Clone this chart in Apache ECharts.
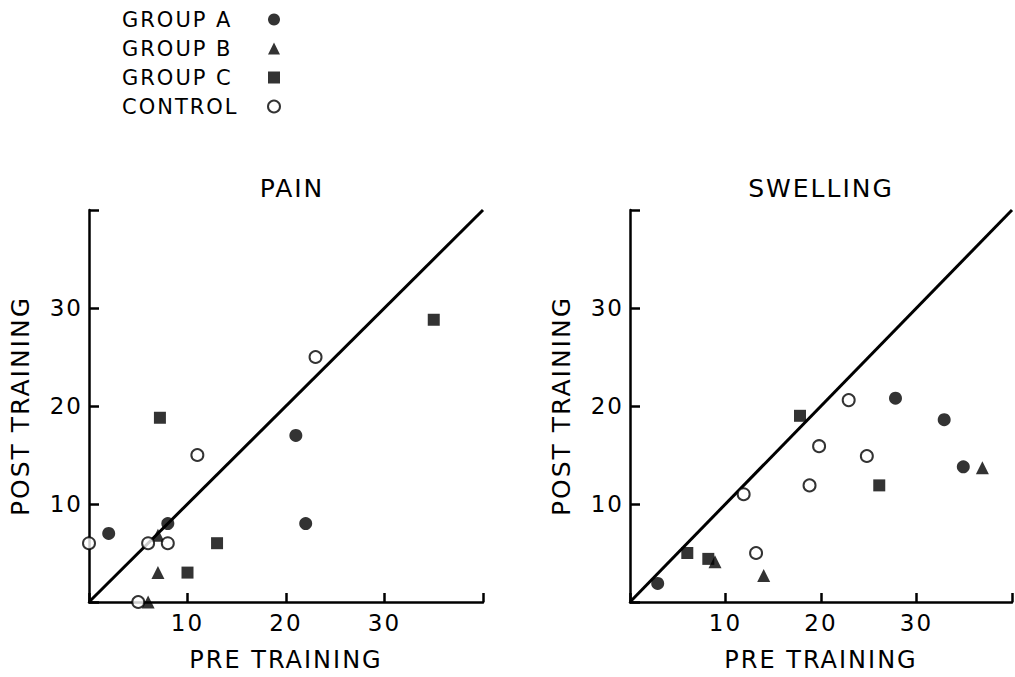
<!DOCTYPE html>
<html>
<head>
<meta charset="utf-8">
<script src="https://cdn.jsdelivr.net/npm/echarts@6/dist/echarts.min.js"></script>
<style>
  html, body { margin: 0; padding: 0; background: #fff; }
  #chart { width: 1015px; height: 677px; }
  /* the original hand lettering is wide-spaced */
  #chart text { letter-spacing: 2px; }
</style>
</head>
<body>
<div id="chart"></div>
<script>
// panel titles and legend names
const panelTitles = ["PAIN", "SWELLING"];
const groupNames = ["GROUP A", "GROUP B", "GROUP C", "CONTROL"];
const axisTicks = [10, 20, 30];

// PAIN panel: [pre training, post training]
const painGroupA = [[2, 7], [8, 8], [21, 17], [22, 8]];
const painGroupB = [[7, 6.8], [7, 3], [6, 0]];
const painGroupC = [[7.2, 18.8], [10, 3], [13, 6], [35, 28.8]];
const painControl = [[0, 6], [6, 6], [8, 6], [5, 0], [11, 15], [23, 25]];

// SWELLING panel
const swellGroupA = [[2.9, 1.9], [27.8, 20.8], [32.9, 18.6], [34.9, 13.8]];
const swellGroupB = [[8.9, 4.1], [14, 2.7], [36.9, 13.7]];
const swellGroupC = [[6, 5], [8.2, 4.4], [17.8, 19], [26.1, 11.9]];
const swellControl = [[11.9, 11], [13.2, 5], [18.8, 11.9], [19.8, 15.9], [22.9, 20.6], [24.8, 14.9]];

// line of no change (post = pre)
const identityLine = [[0, 0], [40, 40]];

const FONT = "DejaVu Sans";

const chart = echarts.init(document.getElementById("chart"), null, { renderer: "svg" });

function xAxisFor(idx) {
  return {
    gridIndex: idx,
    type: "value",
    min: 0,
    max: 40,
    interval: 10,
    name: "PRE TRAINING",
    nameLocation: "middle",
    nameGap: 46,
    nameTextStyle: { fontFamily: FONT, fontSize: 24, color: "#000" },
    axisLine: { lineStyle: { color: "#000", width: 2.5 } },
    axisTick: { inside: true, length: 9, lineStyle: { color: "#000", width: 2.5 } },
    axisLabel: {
      margin: 9,
      fontFamily: FONT,
      fontSize: 23,
      color: "#000",
      formatter: (v) => (axisTicks.includes(v) ? String(v) : "")
    },
    splitLine: { show: false }
  };
}

function yAxisFor(idx) {
  return {
    gridIndex: idx,
    type: "value",
    min: 0,
    max: 40,
    interval: 10,
    name: "POST TRAINING",
    nameLocation: "middle",
    nameRotate: 90,
    nameGap: 56,
    nameTextStyle: { fontFamily: FONT, fontSize: 25, color: "#000" },
    axisLine: { lineStyle: { color: "#000", width: 2.5 } },
    axisTick: { inside: true, length: 10, lineStyle: { color: "#000", width: 2.5 } },
    axisLabel: {
      margin: 6,
      fontFamily: FONT,
      fontSize: 23,
      color: "#000",
      formatter: (v) => (axisTicks.includes(v) ? String(v) : "")
    },
    splitLine: { show: false }
  };
}

const markerStyles = {
  "GROUP A": { symbol: "circle", symbolSize: 13, itemStyle: { color: "#000" } },
  "GROUP B": { symbol: "triangle", symbolSize: 13, itemStyle: { color: "#000" } },
  "GROUP C": { symbol: "rect", symbolSize: 12, itemStyle: { color: "#000" } },
  "CONTROL": { symbol: "circle", symbolSize: 12, itemStyle: { color: "#fff", borderColor: "#000", borderWidth: 2 } }
};

function scatterSeries(name, idx, data) {
  const m = markerStyles[name];
  return {
    name: name,
    type: "scatter",
    xAxisIndex: idx,
    yAxisIndex: idx,
    data: data,
    symbol: m.symbol,
    symbolSize: m.symbolSize,
    itemStyle: m.itemStyle,
    clip: false,
    z: 5,
    emphasis: { disabled: true }
  };
}

function lineSeries(idx) {
  return {
    type: "line",
    xAxisIndex: idx,
    yAxisIndex: idx,
    data: identityLine,
    symbol: "none",
    lineStyle: { color: "#000", width: 3 },
    clip: false,
    z: 3,
    silent: true
  };
}

const titleStyle = { fontFamily: FONT, fontSize: 25, fontWeight: "normal", color: "#000" };

const option = {
  animation: false,
  backgroundColor: "#fff",
  textStyle: { fontFamily: FONT },
  title: [
    { text: panelTitles[0], left: 287, top: 171, textAlign: "center", textStyle: titleStyle },
    { text: panelTitles[1], left: 816, top: 171, textAlign: "center", textStyle: titleStyle }
  ],
  legend: {
    data: groupNames,
    orient: "vertical",
    align: "right",
    left: 117,
    top: 4,
    itemWidth: 12,
    itemHeight: 12,
    itemGap: 8,
    selectedMode: false,
    formatter: (name) => "{n|" + name + "}",
    textStyle: {
      fontFamily: FONT,
      fontSize: 21,
      color: "#000",
      rich: { n: { width: 141, align: "left", fontFamily: FONT, fontSize: 21, lineHeight: 21, color: "#000" } }
    }
  },
  grid: [
    { left: 89, top: 210, width: 394, height: 392 },
    { left: 630, top: 210, width: 392, height: 392 }
  ],
  xAxis: [xAxisFor(0), xAxisFor(1)],
  yAxis: [yAxisFor(0), yAxisFor(1)],
  series: [
    lineSeries(0),
    lineSeries(1),
    scatterSeries("GROUP A", 0, painGroupA),
    scatterSeries("GROUP B", 0, painGroupB),
    scatterSeries("GROUP C", 0, painGroupC),
    scatterSeries("CONTROL", 0, painControl),
    scatterSeries("GROUP A", 1, swellGroupA),
    scatterSeries("GROUP B", 1, swellGroupB),
    scatterSeries("GROUP C", 1, swellGroupC),
    scatterSeries("CONTROL", 1, swellControl)
  ]
};

chart.setOption(option);
</script>
</body>
</html>
